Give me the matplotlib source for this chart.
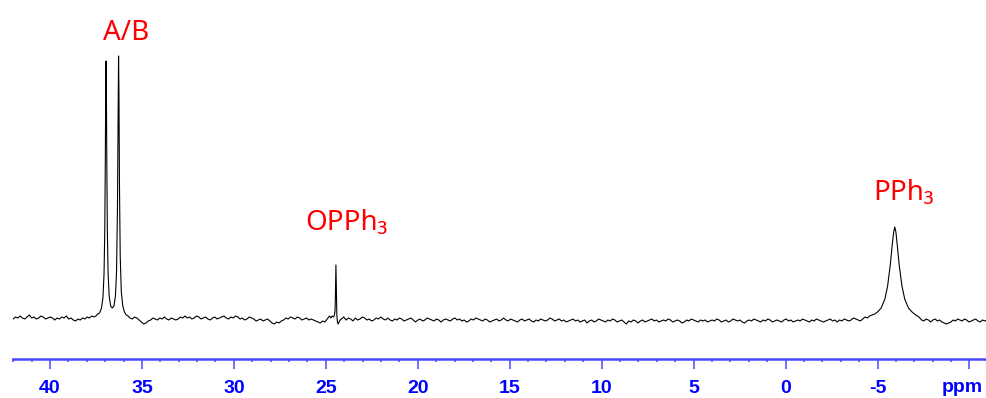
import numpy as np
import matplotlib.pyplot as plt
from matplotlib.ticker import MultipleLocator

# 31P NMR trace (intensity in arbitrary units, baseline ~0)
# baseline stretches: (start ppm, end ppm, readings)
base1_range = (42.0, 37.6)
base1 = [1, 3, 2, 4, 2, 1, 3, 5, 2, 3, 1, 2, 4, 3, 1, 2, 3, 2, 0, 2,
         1, 3, 2, 4, 1, 2, 0, -1, 1, 0, 2, 1, 3, 2, 4, 3]

ab_ppm = [37.50, 37.40, 37.30, 37.20, 37.12, 37.06, 37.02, 36.99, 36.97, 36.95,
          36.93, 36.91, 36.88, 36.84, 36.78, 36.70, 36.61, 36.52, 36.44, 36.38,
          36.33, 36.30, 36.28, 36.27, 36.25, 36.22, 36.18, 36.12, 36.04, 35.95,
          35.85, 35.75]
ab_int = [4, 6, 7, 12, 22, 46, 89, 159, 224, 259,
          224, 160, 90, 47, 24, 14, 12, 14, 24, 48,
          111, 196, 255, 264, 229, 134, 64, 28, 14, 8,
          5, 4]

base2_range = (35.65, 24.8)
base2 = [2, 1, 3, 2, 0, -2, -4, -3, -1, 0, 2, 1, 0, 2, 1, 3, 1, 0, 2, 1,
         0, 1, 3, 2, 4, 2, 3, 1, 2, 4, 3, 1, 2, 3, 1, 0, 2, 3, 1, 2,
         3, 4, 2, 1, 3, 2, 4, 3, 1, 2, 0, 1, 3, 2, 1, -1, 0, 1, -1, 0,
         1, -1, -3, -4, -2, -3, -1, 0, 2, 1, 3, 2, 1, 3, 2, 0, 1, 2, 0, 1,
         0, -1, -2, -3, -1, -2, 1, 4]

opph3_ppm = [24.72, 24.65, 24.58, 24.53, 24.50, 24.48, 24.46, 24.45, 24.44, 24.42,
             24.40, 24.37, 24.33, 24.28, 24.22]
opph3_int = [2, 4, 3, 5, 9, 21, 46, 55, 44, 19, 5, -2, -4, -2, 0]

base3_range = (24.15, -4.7)
base3 = [1, 3, 0, 2, 1, -1, 2, 0, 1, 3, 2, 0, 1, -1, 0, 2, 1, 3, 1, 0,
         2, 0, -1, 1, 0, 2, 1, -1, 0, 1, 2, 0, -2, 0, 1, -1, 0, 2, 1, 0,
         -1, 1, 0, -2, 0, 1, 0, -1, 1, 2, 0, 1, -1, 0, -2, -1, 1, 0, 2, 1,
         0, -1, 1, 0, -2, -1, 0, 1, -1, 0, 2, 0, -1, 1, 0, -1, -2, 0, 1, -1,
         0, 1, -1, -2, 0, -1, 1, 0, -1, 0, 2, 1, -1, 0, 1, -1, 0, -2, -1, 0,
         1, -1, 0, -2, -1, 0, -3, -1, 0, -2, -1, 1, 0, -1, -2, 0, -1, 1, 0, -2,
         -1, 0, -2, -4, -1, -2, 0, -1, -3, -1, 0, -2, -1, 0, 1, -1, 0, -2, -1, 0,
         -1, 1, 0, -2, -1, 0, -1, -3, -2, 0, -1, 1, 0, -1, -2, 0, -1, 0, -2, -1,
         0, -1, 1, 0, -2, -1, 0, -2, -1, 1, 0, -1, 0, -2, -3, -1, 0, -1, 1, 0,
         -1, -2, 0, -1, 1, 0, -2, -1, 0, -1, -2, 0, 1, -1, 0, -2, -1, 0, -1, 1,
         0, -1, -2, 0, -1, 1, 0, -1, -2, -1, 0, 1, -1, 0, -2, 0, -1, 1, 0, -1,
         0, 2, 1, 0, -1, 1, 3, 2, 4, 5]

pph3_ppm = [-4.85, -5.0, -5.2, -5.4, -5.55, -5.7, -5.8, -5.88, -5.94, -6.0,
            -6.08, -6.18, -6.33, -6.48, -6.68, -6.88, -7.08, -7.25]
pph3_int = [6, 8, 12, 21, 34, 56, 75, 88, 93, 88, 74, 55, 34, 21, 12, 8, 5, 3]

base4_range = (-7.4, -10.95)
base4 = [0, -1, 1, 0, -2, 0, 1, -1, 0, -2, -3, -4, -3, -2, 0, -1, 1, 0, -1, 1,
         0, -2, -1, 0, 1, -1, -2, 0, -1, 0]

labels = [('A/B', 35.86, 280), ('OPPh\u2083', 23.86, 90), ('PPh\u2083', -6.43, 120)]
tick_vals = [40, 35, 30, 25, 20, 15, 10, 5, 0, -5, -10]
tick_text = ['40', '35', '30', '25', '20', '15', '10', '5', '0', '-5', '']
unit_text = 'ppm'


def stretch(rng, vals):
    return np.linspace(rng[0], rng[1], len(vals)), np.array(vals, float)


parts = [stretch(base1_range, base1), (ab_ppm, ab_int),
         stretch(base2_range, base2), (opph3_ppm, opph3_int),
         stretch(base3_range, base3), (pph3_ppm, pph3_int),
         stretch(base4_range, base4)]
ppm = np.concatenate([np.asarray(p[0], float) for p in parts])
inten = np.concatenate([np.asarray(p[1], float) for p in parts])

fig = plt.figure(figsize=(9.86, 3.98), dpi=100)
ax = fig.add_axes([13 / 986, 39 / 398, 973 / 986, 359 / 398])
ax.plot(ppm, inten, color='black', lw=0.8)
ax.set_xlim(42.01, -10.9)
ax.set_ylim(-39, 320)

blue = '#0000ff'
axis_blue = '#4848ff'
for s in ['left', 'right', 'top']:
    ax.spines[s].set_visible(False)
ax.spines['bottom'].set_color(axis_blue)
ax.spines['bottom'].set_linewidth(1.8)
ax.set_yticks([])
ax.set_xticks(tick_vals, tick_text)
ax.xaxis.set_minor_locator(MultipleLocator(1))
ax.tick_params(axis='x', which='major', direction='out', length=7.2, width=1.1,
               color=axis_blue, pad=8, labelcolor=blue, labelsize=14)
ax.tick_params(axis='x', which='minor', direction='out', length=2.5, width=1.1,
               color=axis_blue)
for t in ax.get_xticklabels():
    t.set_fontfamily('Liberation Sans')
    t.set_fontweight('bold')

# unit label sits under the last major tick, kept inside the frame
ax.text(0.997, -0.078, unit_text, transform=ax.transAxes, ha='right', va='center',
        color=blue, fontsize=14, fontweight='bold', family='Liberation Sans')

for txt, x, y in labels:
    ax.text(x, y, txt, color='#ff0000', fontsize=20, ha='center', va='baseline',
            family=['Noto Sans', 'DejaVu Sans'])

fig.savefig('out.png', dpi=100)
